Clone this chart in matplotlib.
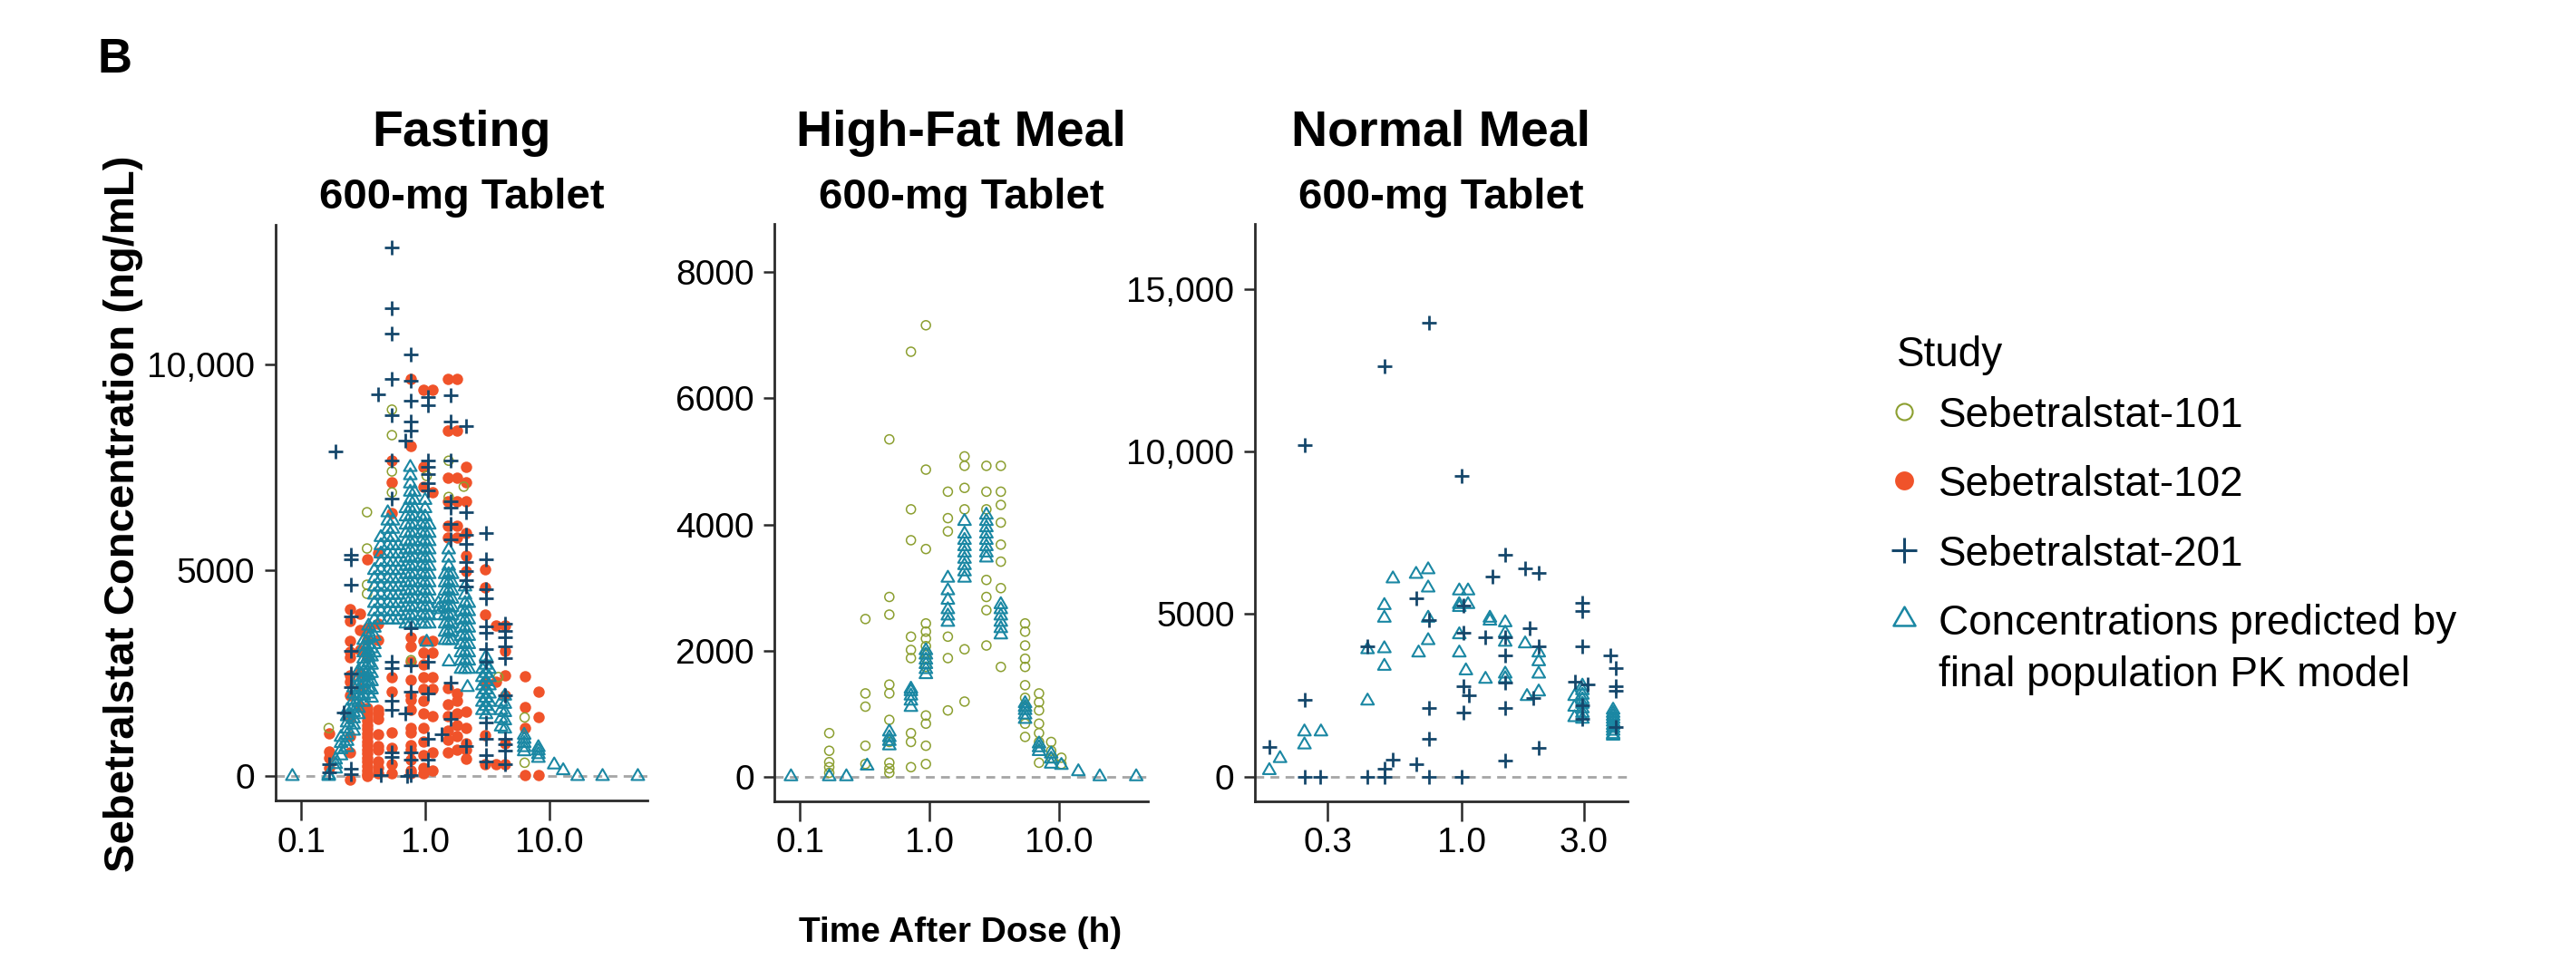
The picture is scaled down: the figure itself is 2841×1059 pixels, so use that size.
import numpy as np
import matplotlib.pyplot as plt
from matplotlib.path import Path
from matplotlib.ticker import FixedLocator, FuncFormatter, NullLocator

plt.rcParams['font.family'] = ['Liberation Sans', 'DejaVu Sans']

# ---- data: (time h, [concentrations ng/mL]) ----
# Fasting
fast_101 = [(0.167, [1170]), (0.34, [6410, 5530, 4650, 4430]),
            (0.54, [8900, 8280, 7400, 6890]), (0.77, [2820]), (1.03, [7290]),
            (1.55, [7660, 6780]), (2.05, [7030]), (3.9, [2410]),
            (6.35, [1430, 330])]
fast_102 = [
    (0.167, [1050, 600, 450, 200]),
    (0.25, [4060, 3770, 3290, 3030, 2880, 2440, 2290, 1970, 1415, 970, 580, -90]),
    (0.30, [3950, 3550, 3060, 2510, 2150, 1700]),
    (0.34, [5270, 3600, 3300, 2900, 1650, 1550, 1450, 1350, 1250, 1150, 1050,
            950, 850, 750, 650, 550, 450, 350, 250, 150, 50, 0]),
    (0.42, [5420, 3700, 3300, 1610, 1530, 1390, 1020, 730, 650, 360, 215, 70]),
    (0.54, [7660, 7140, 6380, 2410, 2050, 1060, 690, 290, 70]),
    (0.77, [9640, 8020, 3370, 3150, 2780, 2340, 1970, 1860, 1610, 1170, 1060,
            765, 655, 400, 140, 70]),
    (0.97, [9380, 7510, 7030, 3290, 3000, 2710, 2410, 2120, 1830, 1530, 1170,
            840, 510, 215, 70]),
    (1.15, [9380, 6890, 3290, 3000, 2410, 2120, 1450, 580, 140]),
    (1.52, [9640, 8390, 7250, 6670, 6080, 5790, 2150, 1750, 1460, 1100, 880, 580]),
    (1.80, [9640, 8390, 7250, 6670, 6080, 5790, 2000, 1830, 1530, 1240, 985, 655]),
    (2.13, [7510, 7140, 6670, 5900, 5350, 4980, 1570, 1170, 800, 655, 435]),
    (3.07, [5020, 4580, 3920, 2270, 1000, 290]),
    (3.7, [3660, 2300, 290]),
    (4.4, [3660, 3040, 2450, 1970, 800, 290]),
    (6.35, [2420, 1680, 1170, 30]),
    (8.2, [2050, 1430, 30]),
]
fast_201 = [
    (0.167, [290, 100]), (0.19, [7880]), (0.22, [1540]),
    (0.253, [5380, 5270, 4650, 3880, 3040, 2490, 2160, 180, 50]),
    (0.42, [9270]), (0.44, [30]),
    (0.54, [12840, 11360, 10740, 9640, 8760, 7660, 6740, 2780, 2630, 1830,
            1610, 580, 470]),
    (0.69, [8140, 1530]), (0.72, [0]),
    (0.77, [10240, 9600, 9120, 8610, 8390, 3590, 2700, 2050, 580, 400, 30]),
    (1.06, [9200, 9010, 7660, 7510, 7330, 7110, 6930, 2780, 2010, 910, 400]),
    (1.36, [1020]),
    (1.61, [9240, 8610, 7660, 6670, 6520, 6120, 5750, 2270, 1390]),
    (2.13, [8500, 6410, 5860, 5640, 5200, 4980, 4760, 4615, 730]),
    (3.1, [5900, 5270, 4540, 4320, 3630, 3480, 3080, 2780, 1310, 910, 510, 360]),
    (4.4, [3700, 3520, 3370, 3150, 2860, 1970, 910, 770, 620, 290]),
]
fast_pred = [
    (0.085, [0]), (0.167, [30, 0]), (0.19, [180, 290, 400]),
    (0.21, [500, 650, 800, 950]),
    (0.235, [700, 850, 1000, 1150, 1300, 1450, 1600]),
    (0.265, [1100, 1250, 1400, 1550, 1700, 1850, 2000, 2150]),
    (0.29, [1500, 1650, 1800, 1950, 2100, 2250, 2400, 2550]),
    (0.32, [1800, 1950, 2100, 2250, 2400, 2550, 2700, 2850, 3000, 3150, 3300]),
    (0.35, [2000, 2150, 2300, 2450, 2600, 2750, 2900, 3050, 3200, 3350, 3500, 3650]),
    (0.37, [1900, 2100, 2300, 2500, 2700, 2900, 3100]),
    (0.39, [3000, 3200, 3400, 3600, 3800, 4000, 4200, 4400, 4600, 4800, 5000]),
    (0.44, [3800, 4000, 4200, 4400, 4600, 4800, 5000, 5200, 5400, 5600, 5800]),
    (0.50, [3800, 4000, 4200, 4400, 4600, 4800, 5000, 5200, 5400, 5600, 5800,
            6000, 6200, 6400]),
    (0.55, [3800, 4000, 4200, 4400, 4600, 4800, 5000, 5200, 5400, 5600, 5800,
            6000, 6200]),
    (0.61, [3800, 4000, 4200, 4400, 4600, 4800, 5000, 5200, 5400, 5600]),
    (0.70, [3700, 3900, 4100, 4300, 4500, 4700, 4900, 5100, 5300, 5500, 5700,
            5900, 6100, 6300, 6500]),
    (0.76, [3700, 3900, 4100, 4300, 4500, 4700, 4900, 5100, 5300, 5500, 5700,
            5900, 6100, 6300, 6500, 6700, 6900, 7100, 7300, 7500]),
    (0.82, [3700, 3900, 4100, 4300, 4500, 4700, 4900, 5100, 5300, 5500, 5700,
            5900, 6100, 6300, 6500, 6700, 6900]),
    (0.93, [3700, 3900, 4100, 4300, 4500, 4700, 4900, 5100, 5300, 5500, 5700,
            5900, 6100, 6300]),
    (1.0, [3700, 3900, 4100, 4300, 4500, 4700, 4900, 5100, 5300, 5500, 5700,
           5900, 6100, 6300, 6500, 6700]),
    (1.03, [3260]),
    (1.08, [3700, 3900, 4100, 4300, 4500, 4700, 4900, 5100, 5300, 5500, 5700,
            5900, 6100]),
    (1.28, [3900, 4050, 4200]),
    (1.45, [3300, 3500, 3700, 3900, 4100, 4300, 4500, 4700, 4900]),
    (1.55, [3300, 3500, 3700, 3900, 4100, 4300, 4500, 4700, 4900, 5100, 5300, 5500]),
    (1.56, [2780]),
    (1.65, [3300, 3500, 3700, 3900, 4100, 4300, 4500, 4700, 4900]),
    (1.95, [2600, 2800, 3000, 3200, 3400, 3600, 3800, 4000]),
    (2.1, [2600, 2800, 3000, 3200, 3400, 3600, 3800, 4000, 4200, 4400, 4600]),
    (2.2, [2160]),
    (2.25, [2600, 2800, 3000, 3200, 3400, 3600, 3800, 4000, 4200]),
    (2.9, [1600, 1800, 2000, 2200, 2400, 2600]),
    (3.1, [1500, 1700, 1900, 2100, 2300, 2500, 2700, 2900]),
    (3.3, [1600, 1800, 2000, 2200, 2400, 2600]),
    (4.1, [1200, 1400, 1600, 1800]),
    (4.4, [1150, 1350, 1550, 1750, 1950]),
    (6.3, [600, 700, 800, 900, 1000]),
    (8.2, [440, 530, 620, 700]),
    (11, [280]), (13, [140]), (17, [0]), (27, [0]), (52, [0]),
]

# High-fat meal
hf_101 = [
    (0.168, [690, 410, 230, 150, 60]),
    (0.32, [2500, 1320, 1110, 490, 200]),
    (0.49, [5350, 2850, 2570, 1460, 1320, 900, 550, 220, 130, 60]),
    (0.72, [6740, 4240, 3750, 2220, 2010, 1880, 690, 550, 150]),
    (0.94, [7160, 4870, 3610, 2430, 2300, 2190, 2070, 1960, 1870, 1740, 970,
            840, 490, 200]),
    (1.39, [4520, 4100, 3890, 2220, 1880, 1050]),
    (1.87, [5080, 4930, 4580, 4240, 2020, 1190]),
    (2.76, [4930, 4520, 4240, 3120, 2850, 2640, 2080]),
    (3.57, [4930, 4520, 4310, 4030, 3680, 3410, 2990, 1740]),
    (5.5, [2430, 2300, 2080, 1870, 1740, 1450, 1250, 1110, 840, 630]),
    (7.05, [1320, 1180, 1050, 840, 690, 550, 220]),
    (8.75, [550, 410, 300]),
    (10.5, [300, 200]),
]
hf_pred = [
    (0.085, [0]), (0.168, [0]), (0.228, [0]), (0.33, [170]),
    (0.49, [490, 560, 620, 710]),
    (0.72, [1100, 1200, 1280, 1350, 1390]),
    (0.94, [1620, 1700, 1780, 1850, 1930, 2000]),
    (1.39, [2450, 2550, 2650, 2800, 2950, 3150]),
    (1.87, [3150, 3250, 3350, 3450, 3550, 3650, 3750, 3850, 4050]),
    (2.76, [3470, 3550, 3650, 3750, 3850, 3950, 4050, 4150]),
    (3.57, [2250, 2350, 2450, 2550, 2650, 2730]),
    (5.5, [910, 980, 1050, 1100, 1160]),
    (7.05, [400, 460, 520]),
    (8.75, [200, 280, 360]),
    (10.5, [180]), (14.2, [80]), (20.8, [0]), (39.8, [0]),
]

# Normal meal
nm_201 = [
    (0.178, [910]), (0.244, [10200, 2370, 0]), (0.28, [0]), (0.43, [4000, 0]),
    (0.50, [12620, 230, 0]), (0.54, [510]), (0.665, [5490, 370]),
    (0.747, [13960, 4810, 2110, 1160, 0]), (1.0, [9250, 0]),
    (1.02, [5260, 4420, 2790, 1970]), (1.07, [2510]), (1.24, [4280]),
    (1.32, [6160]), (1.48, [6840, 4280, 3720, 2880, 2110, 490]),
    (1.77, [6420]), (1.84, [4560]), (1.9, [2420]), (2.0, [6280, 4000, 890]),
    (2.76, [2930]), (2.96, [5350, 5100, 4000, 2190, 1770]), (3.1, [2840]),
    (3.8, [3740]), (4.0, [3330, 2790, 2650, 1540]),
]
nm_pred = [
    (0.178, [190]), (0.196, [560]), (0.244, [1380, 980]), (0.283, [1380]),
    (0.43, [3910, 2330]), (0.50, [5270, 4880, 3940, 3400]), (0.54, [6090]),
    (0.665, [6230]), (0.68, [3810]), (0.741, [6370, 5810, 4880, 4190]),
    (0.98, [5720, 5300, 5210, 4370, 3810]), (1.04, [3260]), (1.06, [5720, 5300]),
    (1.24, [3000]), (1.29, [4880, 4790]), (1.48, [4740, 4420, 4140, 3160, 3020]),
    (1.77, [4090]), (1.8, [2470]), (2.0, [3810, 3540, 3160, 2610]),
    (2.76, [2470, 2140, 1820]),
    (2.96, [2790, 2650, 2510, 2370, 2230, 2090, 1950, 1770]),
    (3.9, [2050, 1950, 1860, 1770, 1680, 1580, 1490, 1400, 1300, 1250]),
]

study_labels = ['Sebetralstat-101', 'Sebetralstat-102', 'Sebetralstat-201',
                'Concentrations predicted by\nfinal population PK model']

C101, C102, C201, CPRED = '#8c9f30', '#f0532a', '#15476b', '#1a87a3'
TRI = Path([(0, 0.577), (-0.5, -0.289), (0.5, -0.289), (0, 0)],
           [Path.MOVETO, Path.LINETO, Path.LINETO, Path.CLOSEPOLY])


def flat(cols):
    t, c = [], []
    for ti, cs in cols:
        t += [ti] * len(cs)
        c += cs
    return t, c


def yfmt(v, pos):
    return f'{v:,.0f}' if v >= 10000 else f'{v:.0f}'


W, H = 2841, 1059
fig = plt.figure(figsize=(W / 100, H / 100), dpi=100)

panels = [
    dict(title='Fasting', box=(303.6, 248.5, 714.3, 883.4), xlim=(0.0619, 62.4),
         ylim=(-594, 13374), xt=[0.1, 1, 10], xl=['0.1', '1.0', '10.0'],
         yt=[0, 5000, 10000], s101=fast_101, s102=fast_102, s201=fast_201,
         pred=fast_pred),
    dict(title='High-Fat Meal', box=(854.2, 246.9, 1265.6, 883.9),
         xlim=(0.0634, 48.7), ylim=(-391, 8769), xt=[0.1, 1, 10],
         xl=['0.1', '1.0', '10.0'], yt=[0, 2000, 4000, 6000, 8000],
         s101=hf_101, s102=[], s201=[], pred=hf_pred),
    dict(title='Normal Meal', box=(1383.7, 246.9, 1795.0, 883.9),
         xlim=(0.156, 4.44), ylim=(-759, 17014), xt=[0.3, 1, 3],
         xl=['0.3', '1.0', '3.0'], yt=[0, 5000, 10000, 15000],
         s101=[], s102=[], s201=nm_201, pred=nm_pred),
]

for p in panels:
    x0, y0, x1, y1 = p['box']
    ax = fig.add_axes([x0 / W, 1 - y1 / H, (x1 - x0) / W, (y1 - y0) / H])
    ax.set_xscale('log')
    ax.axhline(0, color='#a6a6a6', lw=2, dashes=(3.5, 2.5), zorder=1)

    t, c = flat(p['s102'])
    ax.scatter(t, c, s=81, color=C102, linewidths=0, zorder=2)
    t, c = flat(p['s101'])
    ax.scatter(t, c, s=52, facecolors='none', edgecolors=C101, linewidths=1.1, zorder=3)
    t, c = flat(p['pred'])
    ax.scatter(t, c, s=135, marker=TRI, facecolors='none', edgecolors=CPRED,
               linewidths=1.5, zorder=4)
    t, c = flat(p['s201'])
    ax.scatter(t, c, s=144, marker='+', color=C201, linewidths=2.0, zorder=5)

    ax.set_xlim(*p['xlim'])
    ax.set_ylim(*p['ylim'])
    ax.xaxis.set_major_locator(FixedLocator(p['xt']))
    ax.set_xticklabels(p['xl'])
    ax.xaxis.set_minor_locator(NullLocator())
    ax.yaxis.set_major_locator(FixedLocator(p['yt']))
    ax.yaxis.set_major_formatter(FuncFormatter(yfmt))
    for side in ('top', 'right'):
        ax.spines[side].set_visible(False)
    for side in ('left', 'bottom'):
        ax.spines[side].set_linewidth(2.0)
        ax.spines[side].set_color('#2a2a2a')
    ax.tick_params(axis='x', length=16, width=1.8, pad=4.5, labelsize=28, color='#2a2a2a')
    ax.tick_params(axis='y', length=9, width=1.8, pad=7, labelsize=28, color='#2a2a2a')

    cx = (x0 + x1) / 2 / W
    fig.text(cx, 1 - 160.8 / H, p['title'], ha='center', va='baseline',
             fontsize=40, fontweight='bold')
    fig.text(cx, 1 - 229.7 / H, '600-mg Tablet', ha='center', va='baseline',
             fontsize=34, fontweight='bold')

fig.text(107.5 / W, 1 - 79.7 / H, 'B', ha='left', va='baseline', fontsize=38,
         fontweight='bold')
fig.text(136.5 / W, 1 - 566.6 / H, 'Sebetralstat Concentration (ng/mL)',
         rotation=90, ha='center', va='center', fontsize=34, fontweight='bold')
fig.text(1059 / W, 1 - 1039 / H, 'Time After Dose (h)', ha='center',
         va='baseline', fontsize=28, fontweight='bold')

# legend drawn in a pixel-space overlay
lax = fig.add_axes([0, 0, 1, 1])
lax.set_xlim(0, W)
lax.set_ylim(H, 0)
lax.axis('off')
leg_x, title_y, row0, step, line_gap = 2092, 386.7, 454, 76.3, 56.7
mark_x, text_x = 2100, 2138
lax.text(leg_x, title_y, 'Study', fontsize=33, va='center_baseline', ha='left')
styles = [dict(marker='o', ms=13, mfc='none', mec=C101, mew=1.5),
          dict(marker='o', ms=15, mfc=C102, mec=C102, mew=0),
          dict(marker='+', ms=20, mec=C201, mew=2.2),
          dict(marker=TRI, ms=20, mfc='none', mec=CPRED, mew=1.8)]
for i, (lab, st) in enumerate(zip(study_labels, styles)):
    y = row0 + i * step
    lax.plot([mark_x], [y], linestyle='none', **st)
    for j, line in enumerate(lab.split('\n')):
        lax.text(text_x, y + j * line_gap, line, fontsize=33,
                 va='center_baseline', ha='left')

fig.savefig('out.png', dpi=100)
